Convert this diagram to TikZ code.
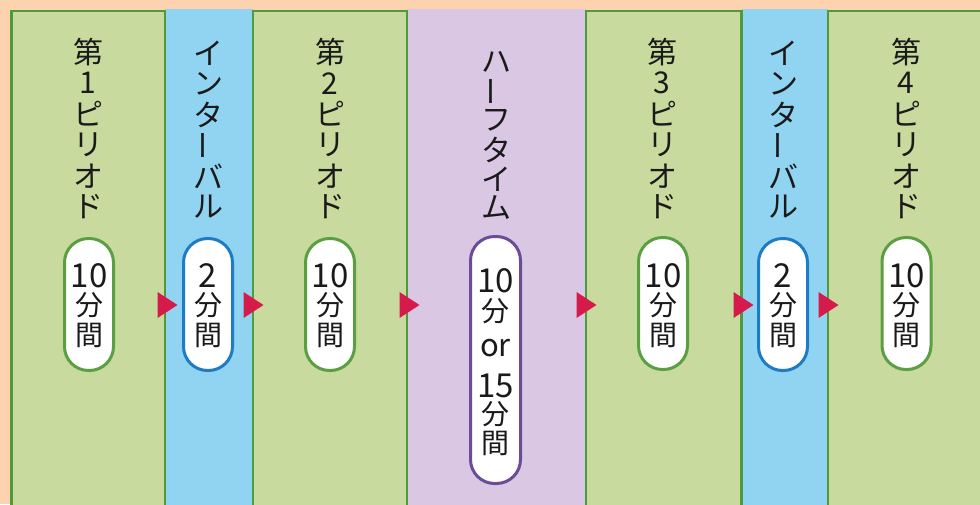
\documentclass[tikz,border=0pt]{standalone}
\usepackage{fontspec}
\usepackage{graphicx}
\newfontfamily\jp{Noto Sans CJK JP}
\definecolor{peach}{HTML}{FCD3AE}
\definecolor{gfill}{HTML}{C8DA9D}
\definecolor{gline}{HTML}{4E9A3C}
\definecolor{bfill}{HTML}{90D4F2}
\definecolor{pfill}{HTML}{DAC7E3}
\definecolor{bline}{HTML}{1E7BC6}
\definecolor{pline}{HTML}{6B4C96}
\definecolor{gpline}{HTML}{5AA042}
\definecolor{arrred}{HTML}{D61A4B}
\definecolor{ink}{HTML}{1A1A1A}
\newcommand\vbar{\rotatebox[origin=c]{90}{ー}}
\newcommand\bigdig{\fontsize{33}{33}\selectfont}
\newcommand\orfont{\fontsize{31}{31}\selectfont}
\newcommand\vtitle[5]{%
  \foreach \ch [count=\i from 0] in {#5} {\node[titlech] (#1-\i) at (#2,{#3+\i*#4}) {\ch};}}
\newcommand\vpill[5]{%
  \foreach \ch [count=\i from 0] in {#5} {\node[pillch] (#1-\i) at (#2,{#3+\i*#4}) {\ch};}}
\begin{document}
\begin{tikzpicture}[x=1pt,y=-1pt,
  titlech/.style={inner sep=0pt, font=\jp\fontsize{30}{30}\selectfont, text=ink},
  pillch/.style={inner sep=0pt, font=\jp\fontsize{28}{28}\selectfont, text=ink},
  pillbox/.style={draw, line width=3pt, fill=white, rounded corners=24pt,
    minimum width=49pt, minimum height=132pt, inner sep=0pt},
  gcol/.style={fill=gfill, draw=gline, line width=2.5pt},
  tri/.style={fill=arrred}]
\useasboundingbox (0,0) rectangle (980,504);
\clip (0,0) rectangle (980,504);
% background
\fill[peach] (0,0) rectangle (980,504);
% blue / purple columns
\fill[bfill] (165,8.5) rectangle (253,510);
\fill[pfill] (407,8.5) rectangle (586,510);
\fill[bfill] (741.5,8.5) rectangle (828,510);
% green columns
\draw[gcol] (11.5,11) rectangle (165,520);
\draw[gcol] (253,11) rectangle (407,520);
\draw[gcol] (586,11) rectangle (741.5,520);
\draw[gcol] (828,11) rectangle (995,520);
% titles
\vtitle{t1}{88}{52.5}{30.8}{第,1,ピ,リ,オ,ド}
\vtitle{t2}{208.5}{53}{30.8}{イ,ン,タ,\vbar,バ,ル}
\vtitle{t3}{330}{52.5}{30.8}{第,2,ピ,リ,オ,ド}
\vtitle{t4}{496}{62}{29.2}{ハ,\vbar,フ,タ,イ,ム}
\vtitle{t5}{662}{52.5}{30.8}{第,3,ピ,リ,オ,ド}
\vtitle{t6}{783}{53}{30.8}{イ,ン,タ,\vbar,バ,ル}
\vtitle{t7}{906}{52.5}{30.8}{第,4,ピ,リ,オ,ド}
% pills
\node[pillbox, draw=gpline] (p1) at (89,304.5) {};
\node[pillbox, draw=bline] (p2) at (208,304.5) {};
\node[pillbox, draw=gpline] (p3) at (330,304.5) {};
\node[pillbox, draw=pline, minimum width=50pt, minimum height=247pt] (p4) at (495.5,360) {};
\node[pillbox, draw=gpline] (p5) at (663,303.5) {};
\node[pillbox, draw=bline] (p6) at (783,304.5) {};
\node[pillbox, draw=gpline] (p7) at (906.5,303.5) {};
% pill texts
\vpill{q1}{89}{275.5}{29.8}{\bigdig 10,分,間}
\vpill{q2}{208}{275.5}{29.8}{\bigdig 2,分,間}
\vpill{q3}{330}{275.5}{29.8}{\bigdig 10,分,間}
\node[pillch] (q4-0) at (495.5,281) {\bigdig 10};
\node[pillch] (q4-1) at (495.5,311) {分};
\node[pillch] (q4-2) at (495.5,348) {\orfont or};
\node[pillch] (q4-3) at (495.5,385.5) {\bigdig 15};
\node[pillch] (q4-4) at (495.5,414) {分};
\node[pillch] (q4-5) at (495.5,443) {間};
\vpill{q5}{663}{275.5}{29.8}{\bigdig 10,分,間}
\vpill{q6}{783}{275.5}{29.8}{\bigdig 2,分,間}
\vpill{q7}{906.5}{275.5}{29.8}{\bigdig 10,分,間}
% arrows
\foreach \b in {166,252,408,585,742,827}
  \fill[tri] (\b-8.5,292) -- (\b+11.5,305) -- (\b-8.5,318) -- cycle;
\end{tikzpicture}
\end{document}
